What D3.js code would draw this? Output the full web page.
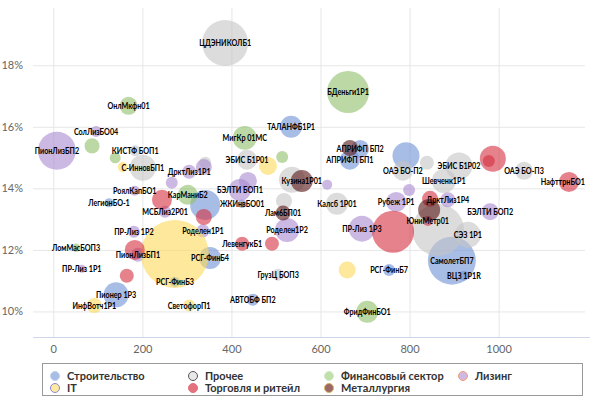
<!DOCTYPE html>
<html><head><meta charset="utf-8">
<script src="https://cdn.jsdelivr.net/npm/d3@7/dist/d3.min.js"></script>
<style>body{margin:0;background:#fff}svg{display:block}</style>
</head><body>
<svg id="c" width="590" height="400"></svg>
<script>
// ---- data ----
const sectors = ["Строительство","Прочее","Финансовый сектор","Лизинг","IT","Торговля и ритейл","Металлургия"];
const bubbleColors = ["#6e91d5","#c5c5c5","#8fc069","#a889d0","#fcd958","#d42f3f","#5a1a1a"];
const bubbleOpacity = [0.6,0.6,0.6,0.6,0.6,0.6,0.62];
const legendFill = ["#a8bde6","#e8e8e8","#bfe0a8","#cdb9e4","#fde9a0","#e5737f","#9c6868"];
const legendStroke = ["#c4d2f0","#555555","#d2eac4","#f0a070","#8c86d8","#e0707c","#d4b460"];

const names = [
 // Строительство
 "ТАЛАНФБ1Р1","АПРИФП БП2","АПРИФП БП1","","СамолетБП7","ВЦЗ 1Р1R","РСГ-ФинБ7","АВТОБФ БП2","РСГ-ФинБ4","РСГ-ФинБ3","Пионер 1Р3","ЛегионБО-1","ЖКИнвБО01","",
 // Прочее
 "ЦДЭНИКОЛБ1","ЭБИС Б1Р01","КИСТФ БОП1","С-ИнновБП1","","","","Калсб 1Р01","ГрузЦ БОП3","ОАЭ БО-П2","","ЭБИС Б1Р02","ОАЭ БО-П3","Шевченк1Р1","","СЭЗ 1Р1",
 // Финансовый сектор
 "ОнлМкфн01","БДеньги1Р1","МигКр 01МС","","","","КарМаниБ2","ЛомМасБОП3","ФридФинБО1",
 // Лизинг
 "ПионЛизБП2","СолЛизБО04","ДрктЛиз1Р1","","","РоялКапБО1","МСБЛиз2Р01","БЭЛТИ БОП1","","Роделен1Р1","Роделен1Р2","","ПР-Лиз 1Р3","","Рубеж 1Р1","ДрктЛиз1Р4","БЭЛТИ БОП2","ПР-Лиз 1Р2","ПионЛизБП1","ПР-Лиз 1Р1",
 // IT
 "","","","ИнфВотч1Р1","СветофорП1","",
 // Торговля и ритейл
 "","","ЛевенгукБ1","","","","","","ЮниМетр01","","","НафттрнБО1",
 // Металлургия
 "Кузина1Р01","Лам6БП01","",""
];
const sectorIndex = [
 0,0,0,0,0,0,0,0,0,0,0,0,0,0,
 1,1,1,1,1,1,1,1,1,1,1,1,1,1,1,1,
 2,2,2,2,2,2,2,2,2,
 3,3,3,3,3,3,3,3,3,3,3,3,3,3,3,3,3,3,3,3,
 4,4,4,4,4,4,
 5,5,5,5,5,5,5,5,5,5,5,5,
 6,6,6,6
];
const duration = [
 534,689,666,792,895,922,754,448,352,273,141,125,424,341,
 386,435,184,201,341,536,518,637,505,785,839,911,1057,877,864,931,
 169,662,430,87,139,514,302,51,705,
 8,96,305,338,266,183,251,419,437,336,525,615,693,799,770,886,981,181,190,64,
 156,482,273,92,305,660,
 244,338,424,491,183,165,763,846,841,987,978,1158,
 558,516,666,844
];
const yieldPct = [
 16.00,15.28,14.93,15.06,11.65,11.16,11.35,10.38,11.74,10.96,10.54,13.53,13.50,13.46,
 18.72,14.93,15.22,14.67,14.83,14.28,13.59,13.50,11.19,14.57,14.83,14.73,14.57,14.24,12.65,12.49,
 16.68,17.13,15.64,15.38,14.99,15.02,13.79,12.07,9.99,
 15.22,15.85,14.54,14.69,14.18,13.92,13.24,13.95,14.24,12.62,12.65,14.12,12.69,13.95,13.56,13.63,13.24,12.59,11.84,11.39,
 14.69,14.73,11.87,10.19,10.19,11.35,
 13.63,13.07,12.20,12.20,12.00,11.16,12.59,13.66,12.94,14.96,14.89,14.21,
 14.24,13.20,15.31,13.30
];
const volume = [
 460,285,368,730,2450,40,88,88,460,40,615,20,5,917,
 2250,368,62,670,88,670,211,460,88,368,145,730,285,561,2895,670,
 285,1864,561,177,62,88,368,5,460,
 1513,62,145,211,88,40,88,460,285,115,561,40,670,88,368,177,247,88,145,0,
 40,285,5000,177,88,247,
 368,211,145,145,368,145,1864,211,40,670,88,368,
 460,177,211,460
];
const xTicks = [0,200,400,600,800,1000];
const yTicks = [10,12,14,16,18];

// ---- layout ----
const L = 33, R = 585, T = 8, B = 337;
const svg = d3.select("#c");
const x = d3.scaleLinear().domain([-45.6, 1194]).range([L, R]);
const y = d3.scaleLinear().domain([9.17, 19.86]).range([B, T]);
const area = d3.scaleLinear().domain([0, 5000]).range([16, 1156]);
const rOf = z => Math.sqrt(area(z));

// grid
const gx = svg.append("g").attr("transform", `translate(0,${B})`)
  .call(d3.axisBottom(x).tickValues(xTicks).tickSize(-(B - T)).tickFormat(""));
gx.select(".domain").remove();
gx.selectAll("line").attr("stroke", "#e6e6e6");
const gy = svg.append("g").attr("transform", `translate(${L},0)`)
  .call(d3.axisLeft(y).tickValues(yTicks).tickSize(-(R - L)).tickFormat(""));
gy.select(".domain").remove();
gy.selectAll("line").attr("stroke", "#e6e6e6");

// axis labels
const font = "Lato, 'Open Sans', sans-serif";
const ax = svg.append("g").attr("transform", `translate(0,${B})`)
  .call(d3.axisBottom(x).tickValues(xTicks).tickSize(0).tickPadding(8).tickFormat(d3.format("d")));
ax.select(".domain").remove();
ax.selectAll("text").attr("fill", "#666").style("font", `11px ${font}`);
const ay = svg.append("g").attr("transform", `translate(${L},0)`)
  .call(d3.axisLeft(y).tickValues(yTicks).tickSize(0).tickPadding(10).tickFormat(d => d + "%"));
ay.select(".domain").remove();
ay.selectAll("text").attr("fill", "#666").style("font", `11px ${font}`);

svg.append("line").attr("x1", L).attr("x2", 590).attr("y1", B + 0.5).attr("y2", B + 0.5)
  .attr("stroke", "#ccd6eb");

// points
const pts = names.map((n, i) => ({name: n, s: sectorIndex[i], x: duration[i], y: yieldPct[i], z: volume[i]}));

const plot = svg.append("g");
sectors.forEach((_, s) => {
  plot.append("g").selectAll("circle").data(pts.filter(p => p.s === s)).join("circle")
    .attr("cx", d => x(d.x)).attr("cy", d => y(d.y)).attr("r", d => rOf(d.z))
    .attr("fill", bubbleColors[s]).attr("fill-opacity", bubbleOpacity[s]);
});

// labels (slightly condensed bold text)
const lblFont = "bold 9px Lato, sans-serif";
const sx = 0.8;
const lg = svg.append("g");
pts.filter(p => p.name).forEach(p => {
  const g = lg.append("g");
  const t = g.append("text").text(p.name).style("font", lblFont).attr("fill", "#000")
    .attr("text-anchor", "middle").attr("dy", "0.35em");
  const w = t.node().getComputedTextLength() * sx;
  let cx = x(p.x);
  cx = Math.max(L + w / 2, Math.min(R - w / 2, cx));
  g.attr("transform", `translate(${cx},${y(p.y)}) scale(${sx},1)`);
});

// legend
const leg = svg.append("g");
leg.append("rect").attr("x", 42.5).attr("y", 363.5).attr("width", 540).attr("height", 32)
  .attr("fill", "#fff").attr("stroke", "#999");
const colX = [55, 193, 329, 463];
const rowY = [376, 388];
sectors.forEach((name, i) => {
  const cx = colX[i % 4], cy = rowY[Math.floor(i / 4)];
  leg.append("circle").attr("cx", cx).attr("cy", cy).attr("r", 4.5)
    .attr("fill", legendFill[i]).attr("stroke", legendStroke[i]).attr("stroke-width", 1);
  leg.append("text").attr("x", cx + 12).attr("y", cy).attr("dy", "0.35em")
    .text(name).attr("fill", "#333").style("font", `bold 11px ${font}`);
});
</script>
</body></html>
